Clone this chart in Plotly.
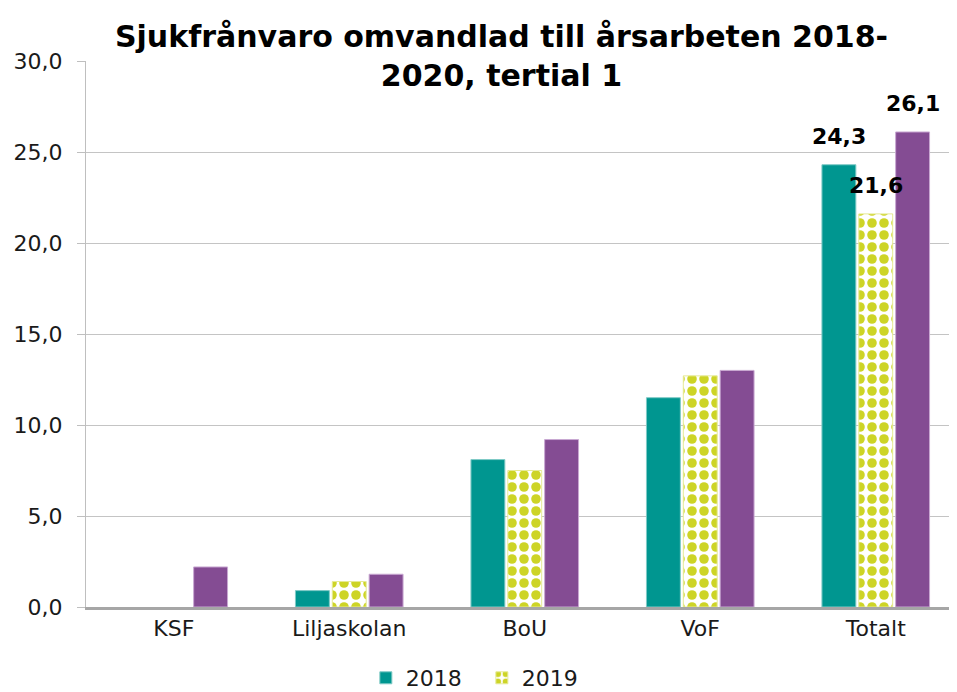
import plotly.graph_objects as go

categories = ["KSF", "Liljaskolan", "BoU", "VoF", "Totalt"]
v2018 = [None, 0.9, 8.1, 11.5, 24.3]
v2019 = [None, 1.4, 7.5, 12.7, 21.6]
v2020 = [2.2, 1.8, 9.2, 13.0, 26.1]
series_names = ["2018", "2019", "2020"]
ytick_vals = [0, 5, 10, 15, 20, 25, 30]
title_text = "Sjukfrånvaro omvandlad till årsarbeten 2018-<br>2020, tertial 1"
labelled_category = "Totalt"

FONT = "DejaVu Sans"
W, H = 949, 684          # page body has an 8px margin
ML, MR, MT, MB = 78, 1, 53, 85
CAT_PX = 175.5           # width of one category band (the chart is cropped at the right)
BARGAP, GROUPGAP = 0.37, 0.08

plot_w = W - ML - MR
x_range = [-0.5, -0.5 + plot_w / CAT_PX]

fig = go.Figure()
fig.add_trace(go.Bar(
    x=categories, y=v2018, name=series_names[0],
    marker=dict(color="#009690", line=dict(color="#7fcac6", width=1)),
))
fig.add_trace(go.Bar(
    x=categories, y=v2019, name=series_names[1],
    marker=dict(color="#cdd426", line=dict(color="#e6ea96", width=1),
                pattern=dict(shape=".", fgcolor="#cdd426", bgcolor="white",
                             fgopacity=1, size=12, solidity=0.5, fillmode="replace")),
))
fig.add_trace(go.Bar(
    x=categories, y=v2020, name=series_names[2], showlegend=False,
    marker=dict(color="#844c93", line=dict(color="#c9a8d2", width=1)),
))

# value labels for the "Totalt" group
slot = CAT_PX * (1 - BARGAP) / 3
idx = categories.index(labelled_category)
for k, vals in enumerate([v2018, v2019, v2020]):
    v = vals[idx]
    fig.add_annotation(
        x=labelled_category, y=v, xref="x", yref="y",
        text=f"{v:.1f}".replace(".", ","), showarrow=False,
        xshift=(k - 1) * slot, yshift=28, yanchor="middle",
        font=dict(family=FONT, size=22, color="black", weight="bold"),
    )

fig.update_layout(
    width=W, height=H,
    margin=dict(l=ML, r=MR, t=MT, b=MB),
    paper_bgcolor="white", plot_bgcolor="white",
    separators=", ",
    barmode="group", bargap=BARGAP, bargroupgap=GROUPGAP,
    font=dict(family=FONT, size=22, color="#1a1a1a"),
    title=dict(text=title_text, x=0.52, xanchor="center",
               y=1 - 39 / H, yanchor="middle",
               font=dict(family=FONT, size=30, color="black", weight="bold")),
    showlegend=True,
    legend=dict(orientation="h", x=0.455, xanchor="center",
                yref="container", y=14 / H, yanchor="middle",
                font=dict(size=22), itemwidth=30, entrywidth=71),
    yaxis=dict(range=[0, 30], tickvals=ytick_vals, tickformat=".1f",
               showgrid=True, gridcolor="#c4c4c4", gridwidth=1,
               showline=True, linecolor="#bfbfbf", linewidth=1,
               ticks="outside", ticklen=8, tickcolor="#bfbfbf",
               ticklabelstandoff=10,
               zeroline=False, tickfont=dict(size=22)),
    xaxis=dict(range=x_range, showline=True, linecolor="#a6a6a6", linewidth=3,
               ticks="", tickfont=dict(size=22)),
)

fig.write_html("out.html")
